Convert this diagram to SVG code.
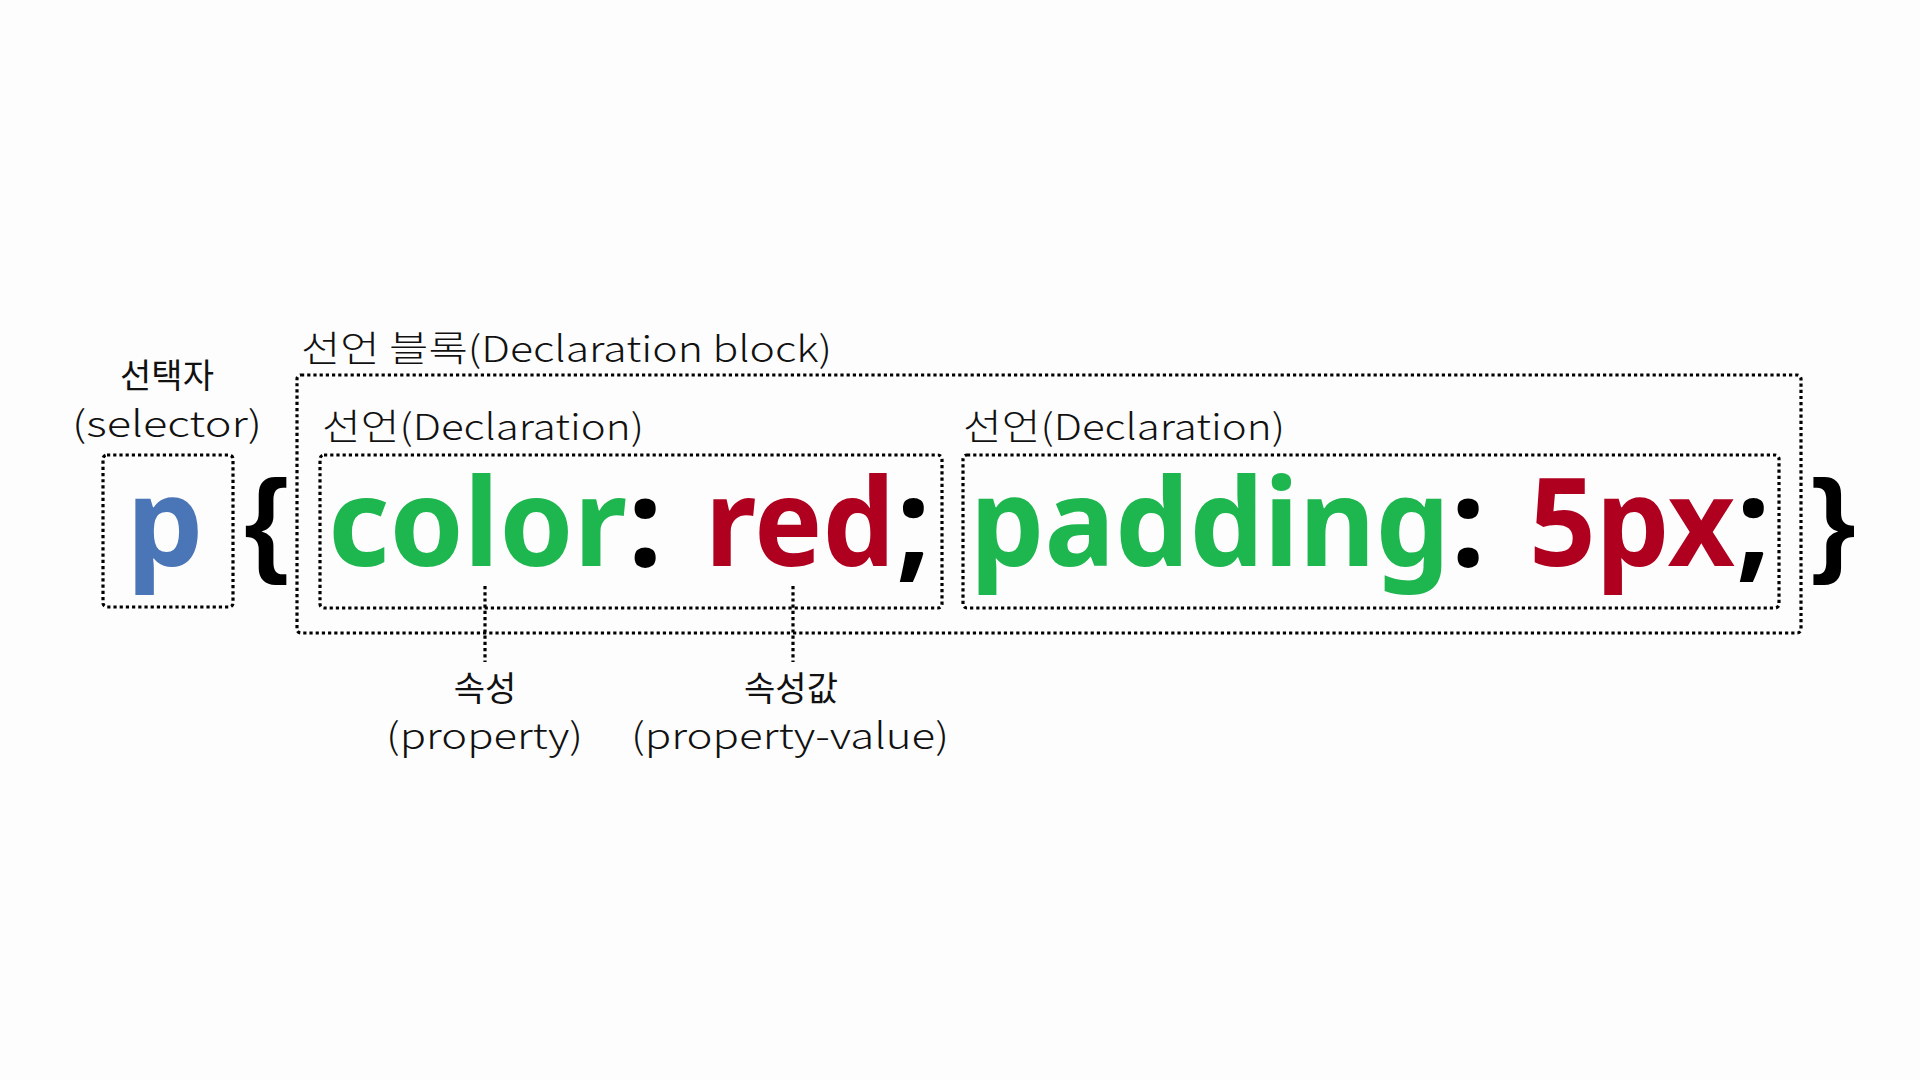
<svg xmlns="http://www.w3.org/2000/svg" width="1920" height="1080" viewBox="0 0 1920 1080">
<style>
.bg{fill:#fdfdfd}
.box{fill:none;stroke:#000;stroke-width:3.2;stroke-dasharray:3.2 3}
.conn{fill:none;stroke:#000;stroke-width:3.2;stroke-dasharray:3.2 3}
.lbl{font-family:"Noto Sans CJK KR","Noto Sans",sans-serif;font-weight:300;fill:#111;font-size:36px}
.ko{font-family:"Noto Sans CJK KR",sans-serif;font-weight:400;fill:#111;font-size:34px}
.code{font-family:"Noto Sans","Open Sans",sans-serif;font-weight:700;font-size:122px}
.brace{font-family:"Liberation Sans",Arial,sans-serif;font-weight:700;font-size:115px;fill:#000}
.g{fill:#1db64f}
.r{fill:#b0001f}
.k{fill:#000}
.b{fill:#4a76b8}
</style>
<rect class="bg" x="0" y="0" width="1920" height="1080"/>

<g id="selector">
  <text class="ko" x="167" y="388" text-anchor="middle">선택자</text>
  <text class="lbl" x="72" y="437" textLength="190" lengthAdjust="spacingAndGlyphs">(selector)</text>
  <rect class="box" x="103" y="455" width="130" height="152" rx="4"/>
  <text class="code b" x="165" y="566" text-anchor="middle">p</text>
</g>

<g id="brace-open">
  <text class="brace" x="244" y="561">{</text>
</g>

<g id="declaration-block">
  <text class="lbl" x="301" y="362" textLength="531" lengthAdjust="spacingAndGlyphs">선언 블록(Declaration block)</text>
  <rect class="box" x="297" y="375" width="1504" height="258" rx="4"/>
</g>

<g id="declaration-1">
  <text class="lbl" x="322" y="440" textLength="322" lengthAdjust="spacingAndGlyphs">선언(Declaration)</text>
  <rect class="box" x="320" y="455" width="622" height="153" rx="4"/>
  <text class="code g" x="328" y="566" textLength="299" lengthAdjust="spacingAndGlyphs">color</text>
  <text class="code k" x="628" y="566">:</text>
  <text class="code r" x="705" y="566" textLength="190" lengthAdjust="spacingAndGlyphs">red</text>
  <text class="code k" x="896" y="566">;</text>
</g>

<g id="declaration-2">
  <text class="lbl" x="963" y="440" textLength="322" lengthAdjust="spacingAndGlyphs">선언(Declaration)</text>
  <rect class="box" x="963" y="455" width="816" height="153" rx="4"/>
  <text class="code g" x="970" y="566" textLength="480" lengthAdjust="spacingAndGlyphs">padding</text>
  <text class="code k" x="1451" y="566">:</text>
  <text class="code r" x="1529" y="566" textLength="206" lengthAdjust="spacingAndGlyphs">5px</text>
  <text class="code k" x="1736" y="566">;</text>
</g>

<g id="brace-close">
  <text class="brace" x="1811" y="561">}</text>
</g>

<g id="connectors">
  <line class="conn" x1="485" y1="586" x2="485" y2="662"/>
  <line class="conn" x1="793" y1="586" x2="793" y2="662"/>
</g>

<g id="property">
  <text class="ko" x="485" y="701" text-anchor="middle">속성</text>
  <text class="lbl" x="386" y="749" textLength="197" lengthAdjust="spacingAndGlyphs">(property)</text>
</g>

<g id="property-value">
  <text class="ko" x="791" y="701" text-anchor="middle">속성값</text>
  <text class="lbl" x="631" y="749" textLength="318" lengthAdjust="spacingAndGlyphs">(property-value)</text>
</g>
</svg>
